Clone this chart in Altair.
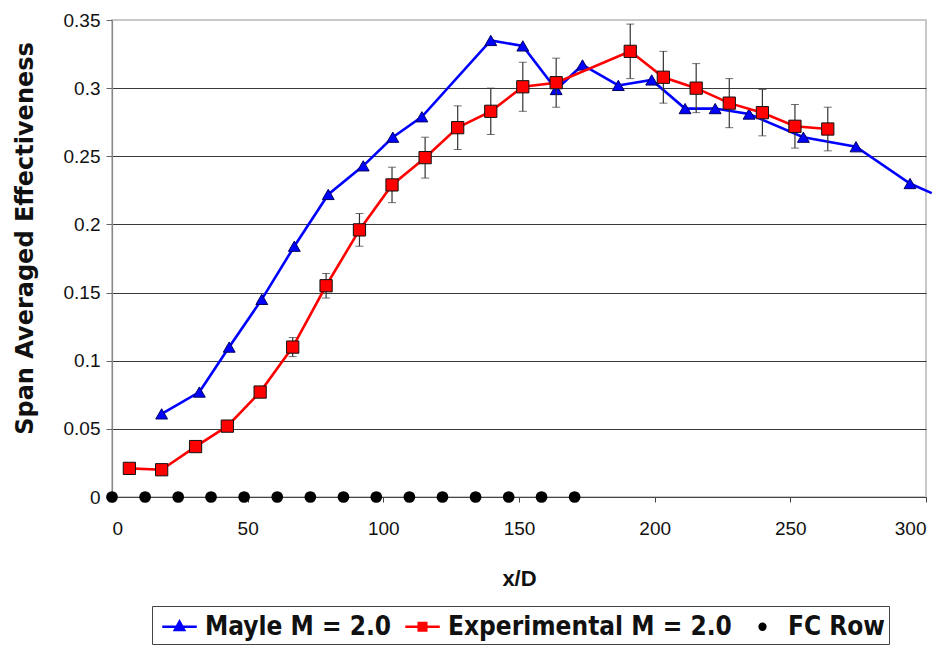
import altair as alt
import pandas as pd

# ---------------- data ----------------
series_names = ["Mayle M = 2.0", "Experimental M = 2.0", "FC Row"]

mayle_x = [18.3, 32.2, 43.2, 55.2, 67.2, 79.7, 92.6, 103.5, 114.2, 139.6, 151.4,
           163.7, 173.4, 186.6, 198.9, 211.2, 222.3, 234.8, 254.8, 274.2, 294.1, 302.1]
mayle_y = [0.061, 0.077, 0.110, 0.145, 0.184, 0.222, 0.243, 0.264, 0.279, 0.335, 0.331,
           0.299, 0.317, 0.302, 0.306, 0.285, 0.285, 0.281, 0.264, 0.257, 0.230, 0.223]

exp_x = [6.4, 18.3, 30.8, 42.5, 54.6, 66.6, 78.9, 91.2, 103.2, 115.4, 127.4,
         139.6, 151.4, 163.7, 191.0, 203.2, 215.3, 227.5, 239.7, 251.7, 263.8]
exp_y = [0.021, 0.020, 0.037, 0.052, 0.077, 0.110, 0.155, 0.196, 0.229, 0.249, 0.271,
         0.283, 0.301, 0.304, 0.327, 0.308, 0.300, 0.289, 0.282, 0.272, 0.270]
exp_err = [0.0, 0.0, 0.0, 0.0, 0.003, 0.007, 0.009, 0.012, 0.013, 0.015, 0.016,
           0.017, 0.018, 0.018, 0.020, 0.019, 0.018, 0.018, 0.017, 0.016, 0.016]

fc_x = [0, 12.2, 24.4, 36.5, 48.7, 60.9, 73.1, 85.3, 97.4, 109.6, 121.8,
        134.0, 146.2, 158.3, 170.5]
fc_y = [0.0] * len(fc_x)

x_ticks = [0, 50, 100, 150, 200, 250, 300]
y_ticks = [0, 0.05, 0.1, 0.15, 0.2, 0.25, 0.3, 0.35]

# ---------------- tables ----------------
mayle = pd.DataFrame({"x": mayle_x, "y": mayle_y, "series": series_names[0]})
exp = pd.DataFrame({"x": exp_x, "y": exp_y, "err": exp_err, "series": series_names[1]})
exp["lo"] = exp["y"] - exp["err"]
exp["hi"] = exp["y"] + exp["err"]
fc = pd.DataFrame({"x": fc_x, "y": fc_y, "series": series_names[2]})
all_df = pd.concat([mayle[["x", "y", "series"]], exp[["x", "y", "series"]], fc], ignore_index=True)

BLUE = "#0000FF"
RED = "#FF0000"
FONT = "Liberation Sans"

xs = alt.Scale(domain=[0, 300], nice=False, zero=False)
ys = alt.Scale(domain=[0, 0.35], nice=False)

x_axis = alt.Axis(
    values=x_ticks, grid=False, title="x/D",
    tickSize=5, tickColor="#444", domainColor="#444", domainWidth=1.2,
    labelFont=FONT, labelFontSize=19, labelColor="#111", labelPadding=17,
    titleFont=FONT, titleFontSize=22, titleFontWeight="bold", titleColor="#111",
    titleY=81, titleBaseline="middle",
)
y_axis = alt.Axis(
    values=y_ticks, title="Span Averaged Effectiveness",
    grid=True,
    gridColor={"condition": {"test": "datum.value >= 0.349", "value": "#c8c8c8"}, "value": "#3a3a3a"},
    gridWidth=1.2,
    tickSize=6, tickColor="#666", domainColor="#888", domainWidth=1.2,
    labelFont=FONT, labelFontSize=19, labelColor="#111", labelPadding=6,
    labelExpr="datum.value == 0 ? '0' : format(datum.value, '.2~f')",
    titleFont="DejaVu Sans", titleFontSize=24, titleFontWeight="bold", titleColor="#111",
    titleAngle=270, titleX=-87, titleY=218, titleAlign="center", titleBaseline="middle",
)

X = alt.X("x:Q", scale=xs, axis=x_axis)
Y = alt.Y("y:Q", scale=ys, axis=y_axis)

blue_line = alt.Chart(mayle).mark_line(color=BLUE, strokeWidth=2.6, clip=False).encode(x=X, y=Y)
blue_pts = alt.Chart(mayle).transform_filter("datum.x <= 300").mark_point(
    shape="triangle-up", filled=True, fill=BLUE, stroke="#000060", strokeWidth=1, size=140, opacity=1
).encode(x=X, y=Y)

red_line = alt.Chart(exp).mark_line(color=RED, strokeWidth=2.6).encode(x=X, y=Y)
err_bars = alt.Chart(exp).transform_filter("datum.err > 0").mark_errorbar(
    ticks=alt.MarkConfig(size=8, color="#333", strokeWidth=1),
    rule=alt.MarkConfig(color="#333", strokeWidth=1.2),
).encode(x=X, y=alt.Y("lo:Q", scale=ys, axis=y_axis), y2="hi:Q")
red_pts = alt.Chart(exp).mark_point(
    shape="square", filled=True, fill=RED, stroke="#111", strokeWidth=1, size=150, opacity=1
).encode(x=X, y=Y)

fc_pts = alt.Chart(fc).mark_point(
    shape="circle", filled=True, fill="black", stroke="black", size=95, opacity=1
).encode(x=X, y=Y)

# legend only (invisible marks, real legend entries)
tri_path = "M-1.15,0H1.15M0,-0.36L0.32,0.22L-0.32,0.22Z"
sq_path = "M-1.15,0H1.15M-0.26,-0.26H0.26V0.26H-0.26Z"
dot_path = "M-0.2,0A0.2,0.2 0 1,0 0.2,0A0.2,0.2 0 1,0 -0.2,0Z"
col_scale = alt.Scale(domain=series_names, range=[BLUE, RED, "#000000"])
shp_scale = alt.Scale(domain=series_names, range=[tri_path, sq_path, dot_path])
leg = alt.Legend(
    title=None, orient="none", legendX=40, legendY=586, direction="horizontal",
    strokeColor="#444", fillColor="white", padding=4, cornerRadius=0,
    labelFont="DejaVu Sans Condensed, Liberation Sans",
    labelFontWeight="bold", labelFontSize=26, labelColor="#111", labelLimit=400,
    symbolSize=900, symbolStrokeWidth=2.3, symbolOpacity=1, symbolOffset=7,
    labelOffset=9, columnPadding=7,
)
legend_layer = alt.Chart(all_df).mark_point(filled=True, opacity=0).encode(
    x=X, y=Y,
    fill=alt.Fill("series:N", scale=col_scale, legend=leg, sort=series_names),
    stroke=alt.Stroke("series:N", scale=col_scale, legend=leg, sort=series_names),
    shape=alt.Shape("series:N", scale=shp_scale, legend=leg, sort=series_names),
)

chart = alt.layer(
    blue_line, blue_pts, red_line, err_bars, red_pts, fc_pts, legend_layer
).properties(
    width=814, height=477,
    autosize=alt.AutoSizeParams(type="none"),
    padding={"left": 112, "top": 20, "right": 25, "bottom": 151},
    background="white",
).configure_view(stroke="#c8c8c8", strokeWidth=2)

chart.save("out.html", embed_options={"renderer": "svg", "actions": False})
